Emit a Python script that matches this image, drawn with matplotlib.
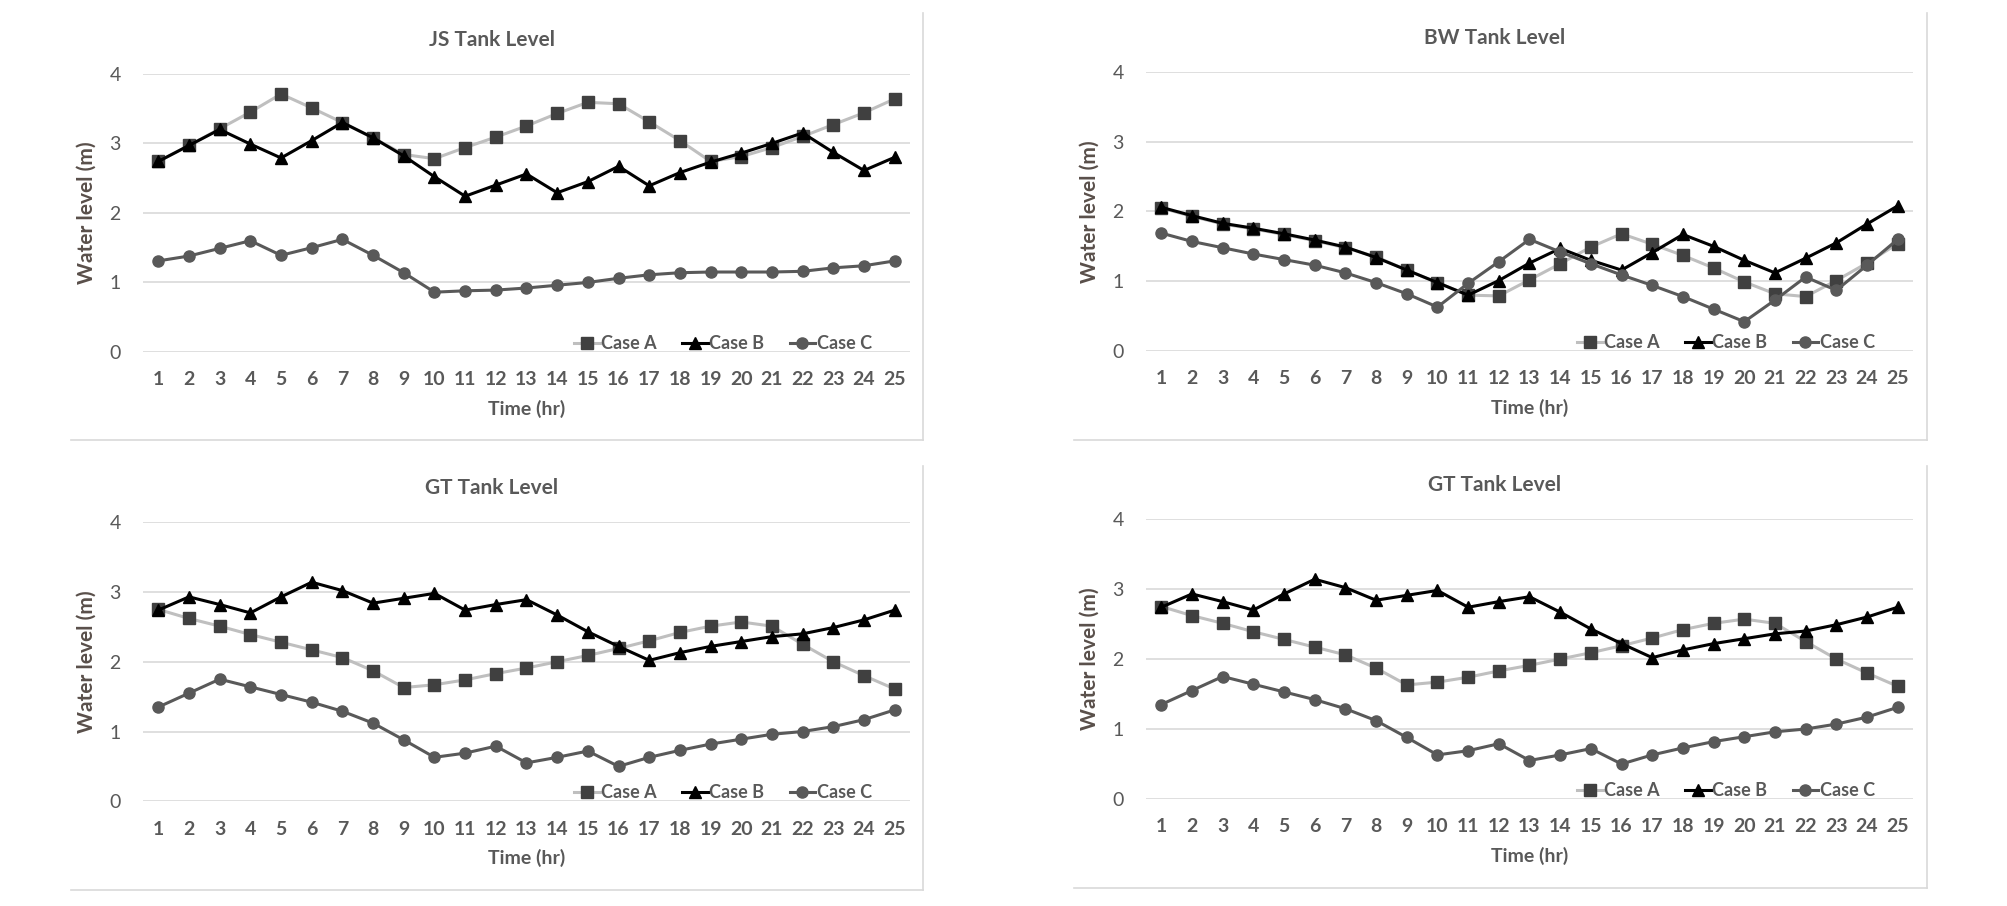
import matplotlib
matplotlib.use("Agg")
import matplotlib.pyplot as plt
from matplotlib import font_manager
from matplotlib.lines import Line2D

HORAS = list(range(1, 26))
Y_TICKS = [0, 1, 2, 3, 4]
CASOS = ["Case A", "Case B", "Case C"]

JS_A = [2.74, 2.97, 3.21, 3.45, 3.71, 3.51, 3.30, 3.08, 2.84, 2.78, 2.94, 3.09, 3.25, 3.43, 3.59, 3.57, 3.31, 3.04, 2.74, 2.81, 2.94, 3.10, 3.27, 3.44, 3.64]
JS_B = [2.74, 2.97, 3.20, 2.99, 2.79, 3.04, 3.30, 3.08, 2.82, 2.52, 2.24, 2.40, 2.56, 2.29, 2.45, 2.67, 2.39, 2.58, 2.73, 2.86, 3.00, 3.15, 2.87, 2.61, 2.80]
JS_C = [1.31, 1.38, 1.49, 1.60, 1.39, 1.50, 1.62, 1.39, 1.14, 0.86, 0.88, 0.89, 0.92, 0.96, 1.00, 1.06, 1.11, 1.14, 1.15, 1.15, 1.15, 1.16, 1.21, 1.24, 1.31]

BW_A = [2.05, 1.93, 1.82, 1.75, 1.67, 1.58, 1.48, 1.35, 1.16, 0.98, 0.80, 0.79, 1.02, 1.25, 1.49, 1.68, 1.53, 1.37, 1.19, 0.99, 0.82, 0.78, 1.01, 1.26, 1.54]
BW_B = [2.06, 1.94, 1.83, 1.76, 1.68, 1.59, 1.49, 1.34, 1.16, 0.98, 0.80, 1.01, 1.26, 1.47, 1.30, 1.16, 1.41, 1.67, 1.50, 1.30, 1.12, 1.33, 1.55, 1.82, 2.08]
BW_C = [1.69, 1.57, 1.48, 1.39, 1.31, 1.23, 1.12, 0.98, 0.82, 0.63, 0.97, 1.28, 1.60, 1.42, 1.25, 1.09, 0.94, 0.78, 0.60, 0.42, 0.73, 1.06, 0.87, 1.23, 1.60]

GT_A = [2.75, 2.62, 2.51, 2.39, 2.28, 2.17, 2.06, 1.87, 1.63, 1.67, 1.74, 1.83, 1.91, 2.00, 2.09, 2.19, 2.30, 2.42, 2.51, 2.57, 2.51, 2.25, 2.00, 1.80, 1.61]
GT_B = [2.74, 2.93, 2.82, 2.70, 2.93, 3.14, 3.02, 2.84, 2.91, 2.98, 2.74, 2.82, 2.89, 2.67, 2.43, 2.22, 2.02, 2.13, 2.22, 2.29, 2.36, 2.40, 2.49, 2.60, 2.74]
GT_C = [1.35, 1.55, 1.75, 1.64, 1.53, 1.42, 1.29, 1.12, 0.88, 0.63, 0.69, 0.79, 0.55, 0.63, 0.72, 0.50, 0.63, 0.73, 0.82, 0.89, 0.96, 1.00, 1.07, 1.17, 1.31]

GRIS_TEXTO = "#595959"
GRIS_REJILLA = "#D9D9D9"

nombres = {f.name for f in font_manager.fontManager.ttflist}
FUENTE = "Liberation Sans Narrow" if "Liberation Sans Narrow" in nombres else "Lato"
plt.rcParams["font.family"] = [FUENTE, "DejaVu Sans"]

ESTILOS = [
    dict(color="#BFBFBF", marker="s", markerfacecolor="#404040", markeredgecolor="#404040", markersize=8),
    dict(color="#000000", marker="^", markerfacecolor="#000000", markeredgecolor="#000000", markersize=8.5),
    dict(color="#595959", marker="o", markerfacecolor="#595959", markeredgecolor="#595959", markersize=8),
]


def dibujar_panel(ax, titulo, series):
    for valores, nombre, estilo in zip(series, CASOS, ESTILOS):
        ax.plot(HORAS, valores, linewidth=2.2, label=nombre, **estilo)

    ax.set_xlim(0.5, 25.5)
    ax.set_ylim(0, 4)
    ax.set_xticks(HORAS)
    ax.set_yticks(Y_TICKS)
    ax.grid(True, axis="y", color=GRIS_REJILLA, linewidth=1.2)
    ax.set_axisbelow(True)
    for s in ax.spines.values():
        s.set_visible(False)
    ax.tick_params(length=0, labelsize=14, labelcolor=GRIS_TEXTO)
    ax.tick_params(axis="x", pad=14)
    ax.tick_params(axis="y", pad=16)
    for lab in ax.get_xticklabels():
        lab.set_fontweight("bold")

    ax.text(0.455, 1.122, titulo, transform=ax.transAxes, ha="center", va="center",
            fontsize=15, fontweight="bold", color=GRIS_TEXTO)
    ax.set_xlabel("Time (hr)", fontsize=14, fontweight="bold", color=GRIS_TEXTO, labelpad=8)
    ax.set_ylabel("Water level (m)", fontsize=15, fontweight="bold", color="#594F4A")
    ax.yaxis.set_label_coords(-0.06, 0.5)

    ley = ax.legend(loc="center right", bbox_to_anchor=(0.962, 0.03), ncol=3, frameon=False,
                    handlelength=1.4, handletextpad=0.1, columnspacing=1.4,
                    prop={"size": 13, "weight": "bold"}, borderpad=0)
    for t in ley.get_texts():
        t.set_color(GRIS_TEXTO)


fig = plt.figure(figsize=(20.08, 9.06), dpi=100)

paneles = [
    ([0.0712, 0.6115, 0.382, 0.307], "JS Tank Level", [JS_A, JS_B, JS_C]),
    ([0.5707, 0.6126, 0.382, 0.308], "BW Tank Level", [BW_A, BW_B, BW_C]),
    ([0.0712, 0.1156, 0.382, 0.308], "GT Tank Level", [GT_A, GT_B, GT_C]),
    ([0.5707, 0.1181, 0.382, 0.309], "GT Tank Level", [GT_A, GT_B, GT_C]),
]

for pos, titulo, series in paneles:
    ax = fig.add_axes(pos)
    dibujar_panel(ax, titulo, series)

# bordes de cada grafico (derecha y abajo)
marcos = [(71, 923, 13, 440), (1074, 1927, 13, 440), (71, 923, 466, 890), (1074, 1927, 466, 888)]
for x0, x1, y0, y1 in marcos:
    fx0, fx1 = x0 / 2008, x1 / 2008
    fy0, fy1 = 1 - y0 / 906, 1 - y1 / 906
    fig.add_artist(Line2D([fx1, fx1], [fy0, fy1], color=GRIS_REJILLA, linewidth=1.2))
    fig.add_artist(Line2D([fx0, fx1], [fy1, fy1], color=GRIS_REJILLA, linewidth=1.2))

fig.savefig("out.png", dpi=100, facecolor="white")
